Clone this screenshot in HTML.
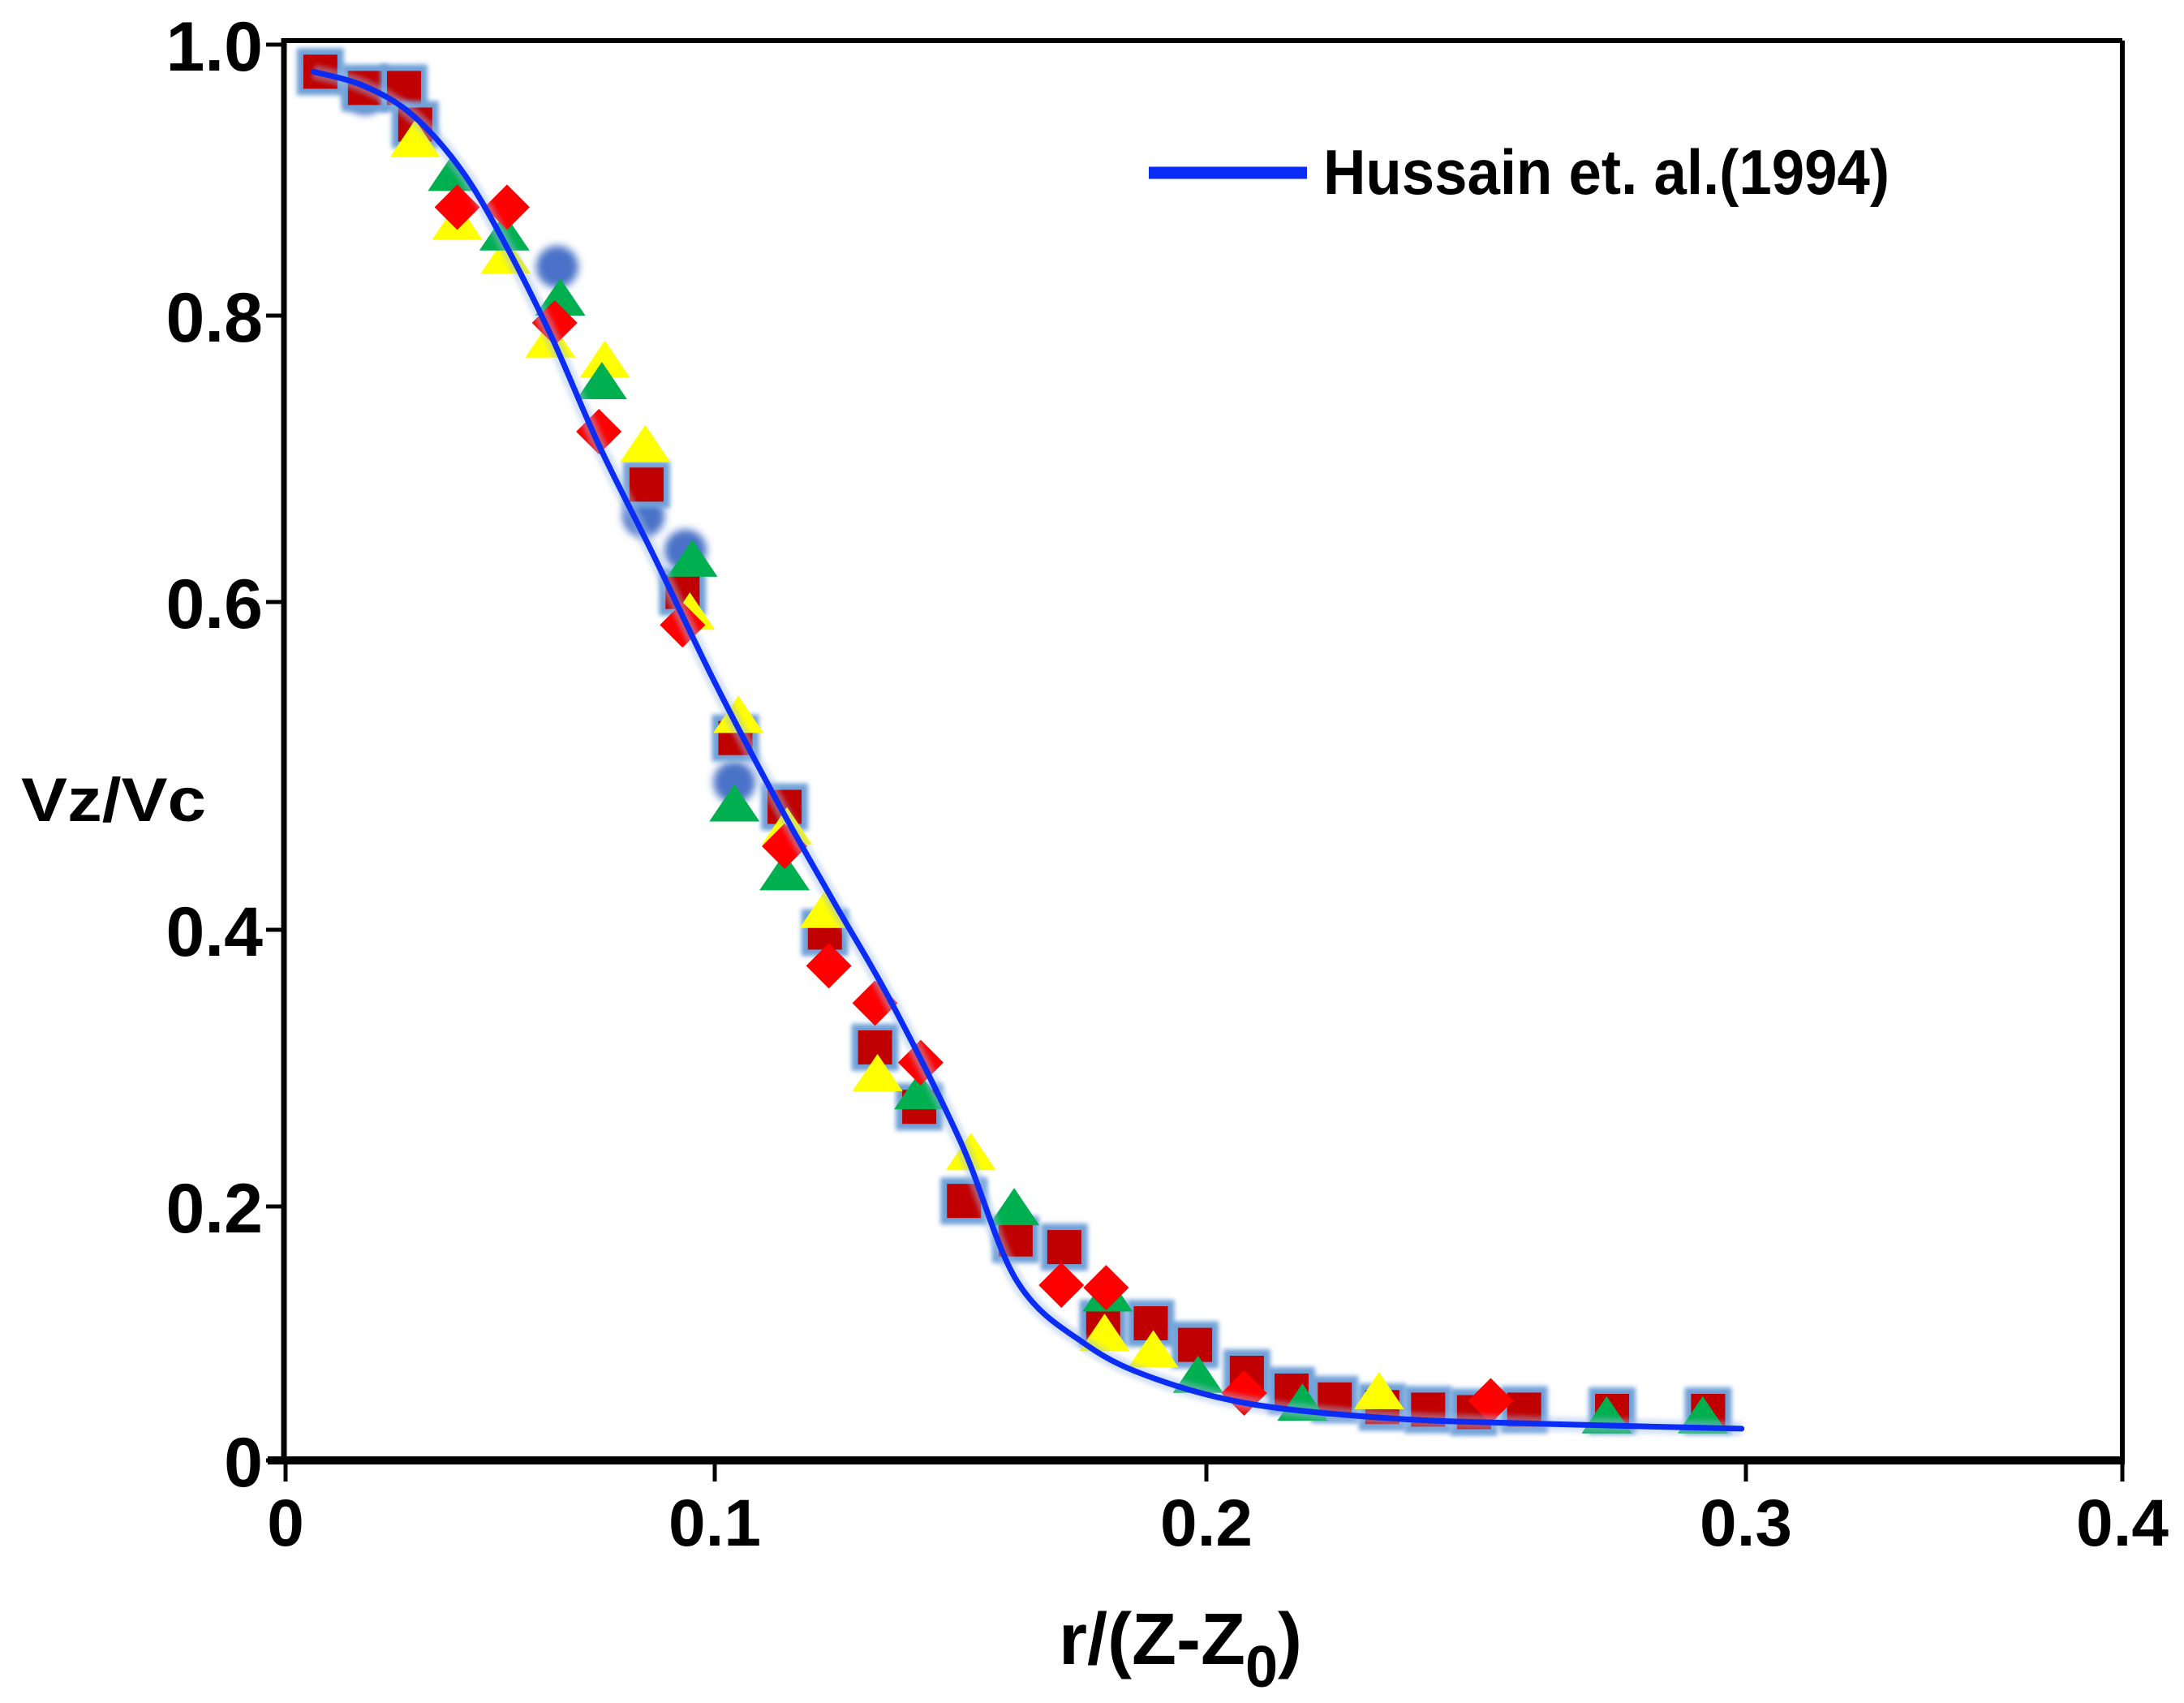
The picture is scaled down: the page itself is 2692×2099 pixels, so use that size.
<!DOCTYPE html>
<html><head><meta charset="utf-8">
<style>
html,body{margin:0;padding:0;background:#fff;}
svg{display:block;}
text{font-family:"Liberation Sans",sans-serif;font-weight:bold;fill:#000;}
</style></head>
<body>
<svg id="chart" width="2692" height="2099" viewBox="0 0 2692 2099" xmlns="http://www.w3.org/2000/svg">
<defs>
<filter id="glow" x="-50%" y="-50%" width="200%" height="200%"><feGaussianBlur stdDeviation="3"/></filter>
<filter id="blur" x="-50%" y="-50%" width="200%" height="200%"><feGaussianBlur stdDeviation="5"/></filter>
</defs>
<g id="frame">
<line x1="350" y1="50" x2="2616" y2="50" stroke="#000" stroke-width="6"/>
<line x1="2616" y1="50" x2="2616" y2="1800" stroke="#000" stroke-width="6"/>
<line x1="350" y1="47" x2="350" y2="1803" stroke="#000" stroke-width="7"/>
<line x1="330" y1="1800" x2="2619" y2="1800" stroke="#000" stroke-width="10"/>
</g>
<g id="ticks"></g>
<g id="blues"></g>
<g id="squares"></g>
<g id="yellows"></g>
<g id="greens"></g>
<g id="diamonds"></g>
<g id="curve"></g>
<g>
<line x1="1416" y1="213" x2="1611" y2="213" stroke="#0a2cf5" stroke-width="15"/>
<text x="1631" y="239" font-size="78" textLength="698" lengthAdjust="spacingAndGlyphs">Hussain et. al.(1994)</text>
</g>
<text x="26" y="1012" font-size="76" textLength="228" lengthAdjust="spacingAndGlyphs">Vz/Vc</text>
<text x="1305" y="2051" font-size="90" textLength="300" lengthAdjust="spacingAndGlyphs">r/(Z-Z<tspan dy="28" font-size="72">0</tspan><tspan dy="-28">)</tspan></text>
</svg>
<script>
const xTickVals=[0,0.1,0.2,0.3,0.4];
const xTickLabels=["0","0.1","0.2","0.3","0.4"];
const yTickVals=[0,0.2,0.4,0.6,0.8,1.0];
const yTickLabels=["0","0.2","0.4","0.6","0.8","1.0"];
const sqX=[0.0081,0.0185,0.0276,0.0302,0.0841,0.0925,0.1042,0.1142,0.1224,0.1326,0.1416,0.1507,0.1612,0.1711,0.179,0.1887,0.1977,0.2075,0.2158,0.2238,0.2326,0.2411,0.2496,0.2589,0.2752,0.293];
const sqY=[0.980,0.968,0.968,0.941,0.682,0.607,0.517,0.475,0.398,0.315,0.272,0.204,0.174,0.168,0.108,0.108,0.091,0.069,0.055,0.048,0.042,0.040,0.038,0.040,0.039,0.039];
const dmX=[0.040,0.0516,0.0627,0.073,0.0925,0.1142,0.1232,0.1326,0.1419,0.1705,0.1796,0.207,0.2527];
const dmY=[0.880,0.880,0.795,0.719,0.586,0.451,0.374,0.347,0.304,0.138,0.136,0.053,0.047];
const ylX=[0.0302,0.040,0.0513,0.0617,0.0744,0.0838,0.0942,0.1048,0.1147,0.1224,0.1331,0.1521,0.1793,0.1892,0.232];
const ylY=[0.929,0.868,0.843,0.782,0.768,0.709,0.593,0.530,0.462,0.411,0.295,0.238,0.099,0.086,0.053];
const grX=[0.039,0.051,0.064,0.0737,0.0948,0.104,0.1142,0.1416,0.1609,0.1799,0.1983,0.2178,0.2742,0.292];
const grY=[0.904,0.860,0.812,0.753,0.629,0.476,0.434,0.282,0.198,0.130,0.066,0.044,0.034,0.034];
const blX=[0.0185,0.0633,0.0834,0.0932,0.104];
const blY=[0.964,0.836,0.660,0.636,0.490];
const cvX=[0.0065,0.0179,0.0292,0.0406,0.0503,0.0617,0.0731,0.086,0.1,0.1133,0.1246,0.136,0.1501,0.1615,0.1756,0.1898,0.2088,0.2346,0.2605,0.2992];
const cvY=[0.98,0.970,0.949,0.909,0.858,0.787,0.709,0.631,0.551,0.475,0.415,0.347,0.246,0.141,0.091,0.064,0.044,0.033,0.029,0.025];

// piecewise axis calibration (the original chart's axes are not uniform)
const xPx=[352,881,1487,2152,2616];
const yPx=[1800,1487,1146,742,389,55];
function pw(v,vals,px){
  let i=0; while(i<vals.length-2 && v>vals[i+1]) i++;
  const t=(v-vals[i])/(vals[i+1]-vals[i]);
  return px[i]+t*(px[i+1]-px[i]);
}
const sx=v=>pw(v,xTickVals,xPx);
const sy=v=>pw(v,yTickVals,yPx);
const NS="http://www.w3.org/2000/svg";
function mk(tag,attrs,parent){const e=document.createElementNS(NS,tag);for(const k in attrs)e.setAttribute(k,attrs[k]);parent.appendChild(e);return e;}

const tg=document.getElementById('ticks');
xTickVals.forEach((v,i)=>{
  const x=sx(v);
  const t=mk('line',{x1:x,y1:1800,x2:x,y2:1826,stroke:'#000','stroke-width':5},tg);
  
  
  const lb=mk('text',{x:x,y:1905,'font-size':82,'text-anchor':'middle'},tg);
  
  
  lb.textContent=xTickLabels[i];
});
yTickVals.forEach((v,i)=>{
  const y=sy(v);
  const t=mk('line',{x1:328,y1:y,x2:350,y2:y,stroke:'#000','stroke-width':5},tg);
  
  
  const lb=mk('text',{x:324,y:y+32,'font-size':86,'text-anchor':'end'},tg);
  
  
  lb.textContent=yTickLabels[i];
});

const bg=document.getElementById('blues');
blX.forEach((v,i)=>{
  const c=mk('circle',{cx:sx(v),cy:sy(blY[i]),r:26,fill:'#4a72c8',filter:'url(#blur)'},bg);
  
  
});
const sg=document.getElementById('squares');
sqX.forEach((v,i)=>{
  const x=sx(v),y=sy(sqY[i]);
  const g=mk('rect',{x:x-29,y:y-29,width:58,height:58,fill:'#6fa0d8',filter:'url(#glow)'},sg);
  
  
  const r=mk('rect',{x:x-21,y:y-21,width:42,height:42,fill:'#c00000'},sg);
  
  
});
function tri(parent,xs,ys,color,name){
  xs.forEach((v,i)=>{
    const x=sx(v),y=sy(ys[i]);
    const p=mk('polygon',{points:`${x},${y-26} ${x+31},${y+20} ${x-31},${y+20}`,fill:color},parent);
    
    
  });
}
tri(document.getElementById('yellows'),ylX,ylY,'#ffff00','yellow-triangle-point');
tri(document.getElementById('greens'),grX,grY,'#00b050','green-triangle-point');
const dg=document.getElementById('diamonds');
dmX.forEach((v,i)=>{
  const x=sx(v),y=sy(dmY[i]);
  const p=mk('polygon',{points:`${x},${y-28} ${x+28},${y} ${x},${y+28} ${x-28},${y}`,fill:'#ff0000'},dg);
  
  
});
// smooth curve (Catmull-Rom) through the curve points
const cg=document.getElementById('curve');
const P=cvX.map((v,i)=>[sx(v),sy(cvY[i])]);
let d=`M${P[0][0]},${P[0][1]}`;
for(let i=0;i<P.length-1;i++){
  const p0=P[Math.max(0,i-1)],p1=P[i],p2=P[i+1],p3=P[Math.min(P.length-1,i+2)];
  const c1=[p1[0]+(p2[0]-p0[0])/6,p1[1]+(p2[1]-p0[1])/6];
  const c2=[p2[0]-(p3[0]-p1[0])/6,p2[1]-(p3[1]-p1[1])/6];
  d+=` C${c1[0]},${c1[1]} ${c2[0]},${c2[1]} ${p2[0]},${p2[1]}`;
}
const halo=mk('path',{d:d,fill:'none',stroke:'#9dbbe6','stroke-width':18,'stroke-opacity':0.45,filter:'url(#glow)'},cg);


const pl=mk('path',{d:d,fill:'none',stroke:'#0a2cf5','stroke-width':7,'stroke-linejoin':'round','stroke-linecap':'round'},cg);


</script>
</body></html>
